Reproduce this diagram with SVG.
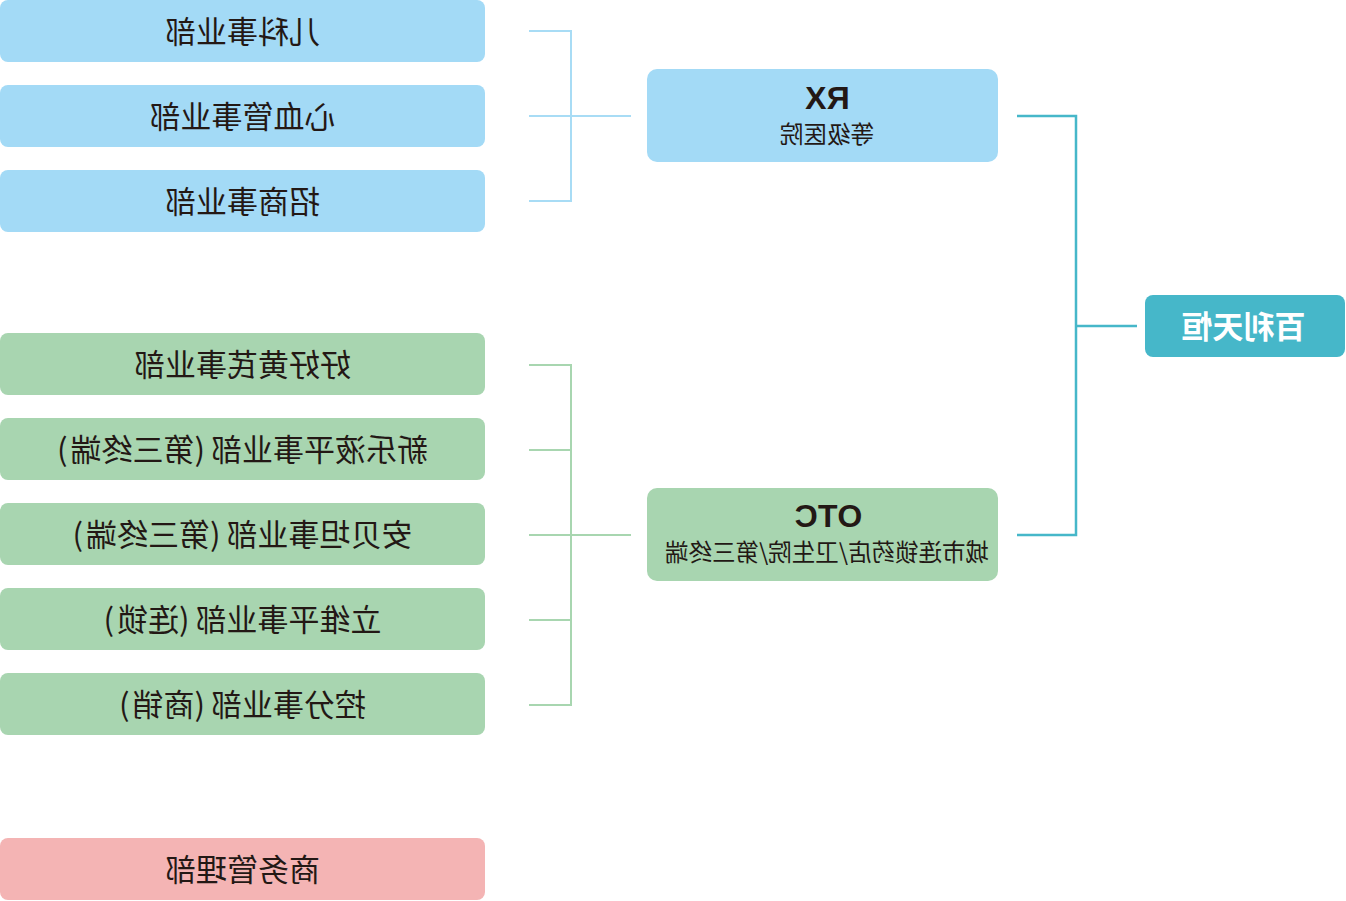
<svg xmlns="http://www.w3.org/2000/svg" width="1346" height="901" viewBox="0 0 1346 901">
<style>
.bg{fill:#ffffff}
.blue{fill:#a3daf6}
.green{fill:#a8d5b0}
.pink{fill:#f4b4b4}
.teal{fill:#46b7c9}
.t{font-family:"Noto Sans CJK SC","Noto Sans",sans-serif;font-size:31px;fill:#231815;text-anchor:middle;dominant-baseline:central}
.sub{font-family:"Noto Sans CJK SC","Noto Sans",sans-serif;font-size:23.5px;fill:#231815;text-anchor:middle;dominant-baseline:central}
.big{font-family:"Liberation Sans",Arial,sans-serif;font-weight:bold;font-size:32px;fill:#231815;text-anchor:middle}
.root{font-family:"Noto Sans CJK SC","Noto Sans",sans-serif;font-weight:bold;font-size:31px;fill:#ffffff;text-anchor:middle;dominant-baseline:central}
.lb{fill:none;stroke:#a8dcf5;stroke-width:2}
.lg{fill:none;stroke:#a8d6b0;stroke-width:2}
.lt{fill:none;stroke:#46b7c9;stroke-width:2.5}
</style>
<rect class="bg" x="0" y="0" width="1346" height="901"/>
<g id="connectors">
<path class="lb" d="M529 31H571V201H529M529 116H631"/>
<path class="lg" d="M529 365H571V705H529M529 450H571M529 535H631M529 620H571"/>
<path class="lt" d="M1017 116H1076V535H1017M1076 326H1137"/>
</g>
<g id="n-erke"><rect class="blue" x="0" y="0" width="485" height="62" rx="8"/><text class="t" x="-242.5" y="29" transform="scale(-1,1)">儿科事业部</text></g>
<g id="n-xinxueguan"><rect class="blue" x="0" y="85" width="485" height="62" rx="8"/><text class="t" x="-242.5" y="114" transform="scale(-1,1)">心血管事业部</text></g>
<g id="n-zhaoshang"><rect class="blue" x="0" y="170" width="485" height="62" rx="8"/><text class="t" x="-242.5" y="199" transform="scale(-1,1)">招商事业部</text></g>
<g id="n-haohao"><rect class="green" x="0" y="333" width="485" height="62" rx="8"/><text class="t" x="-242.5" y="362" transform="scale(-1,1)">好好黄芪事业部</text></g>
<g id="n-xinleye"><rect class="green" x="0" y="418" width="485" height="62" rx="8"/><text class="t" x="-242.5" y="447" transform="scale(-1,1)">新乐液平事业部<tspan dx="6">(</tspan>第三终端<tspan dx="3">)</tspan></text></g>
<g id="n-anbeitan"><rect class="green" x="0" y="503" width="485" height="62" rx="8"/><text class="t" x="-242.5" y="532" transform="scale(-1,1)">安贝坦事业部<tspan dx="6">(</tspan>第三终端<tspan dx="3">)</tspan></text></g>
<g id="n-liweiping"><rect class="green" x="0" y="588" width="485" height="62" rx="8"/><text class="t" x="-242.5" y="617" transform="scale(-1,1)">立维平事业部<tspan dx="6">(</tspan>连锁<tspan dx="3">)</tspan></text></g>
<g id="n-konggu"><rect class="green" x="0" y="673" width="485" height="62" rx="8"/><text class="t" x="-242.5" y="702" transform="scale(-1,1)">控分事业部<tspan dx="6">(</tspan>商销<tspan dx="3">)</tspan></text></g>
<g id="n-shangwu"><rect class="pink" x="0" y="838" width="485" height="62" rx="8"/><text class="t" x="-242.5" y="867" transform="scale(-1,1)">商务管理部</text></g>
<g id="n-rx"><rect class="blue" x="647" y="69" width="351" height="93" rx="10"/><text class="big" x="-827.5" y="109" transform="scale(-1,1)">RX</text><text class="sub" x="-827" y="133" transform="scale(-1,1)">等级医院</text></g>
<g id="n-otc"><rect class="green" x="647" y="488" width="351" height="93" rx="10"/><text class="big" x="-828.5" y="527" transform="scale(-1,1)">OTC</text><text class="sub" x="-827" y="551" transform="scale(-1,1)">城市连锁药店/卫生院/第三终端</text></g>
<g id="n-root"><rect class="teal" x="1145" y="295" width="200" height="62" rx="8"/><text class="root" x="-1243.5" y="324" transform="scale(-1,1)">百利天恒</text></g>
</svg>
